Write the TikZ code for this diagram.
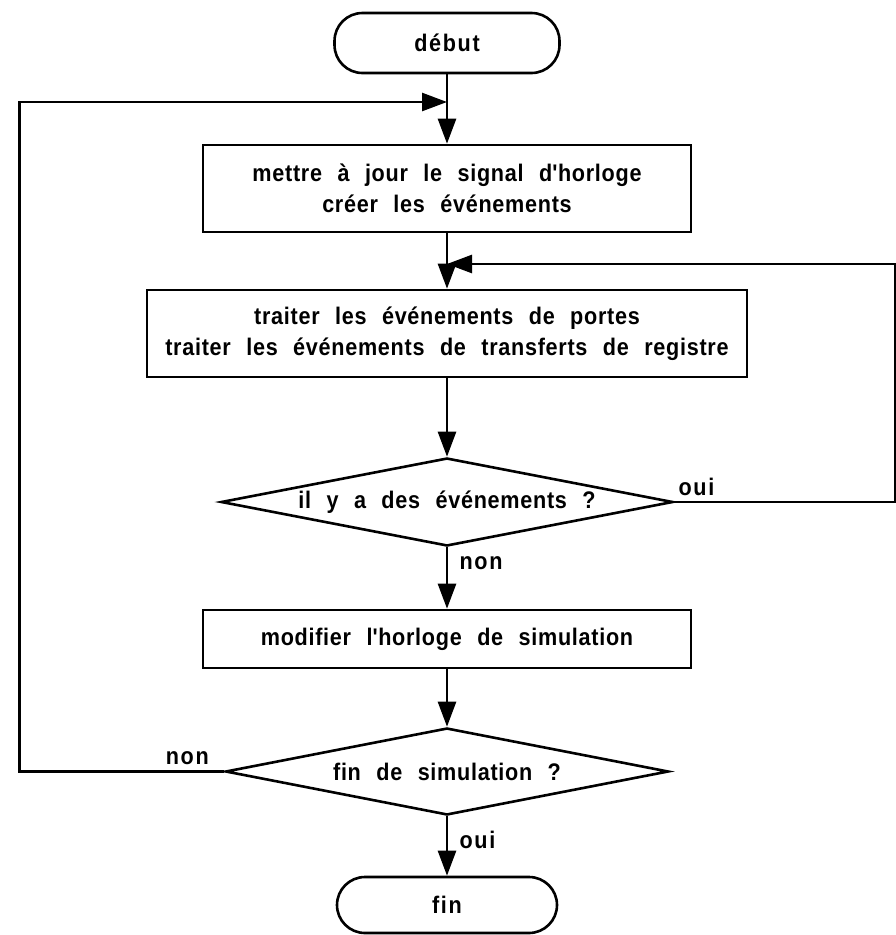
\documentclass[tikz,border=0pt]{standalone}
\usepackage{fontspec}
\setmainfont{Liberation Sans}[FakeStretch=0.9, LetterSpace=3, WordSpace=2.3]
\usetikzlibrary{shapes.geometric, positioning, arrows.meta}

\begin{document}
\begin{tikzpicture}[
    x=1pt, y=-1pt,
    font=\fontsize{24}{31}\selectfont\bfseries,
    line width=2.6pt, >={Triangle[length=25pt, width=18pt]},
    terminal/.style={rectangle, rounded corners=28pt, draw, minimum width=225pt, minimum height=60pt,
        font=\fontsize{24}{31}\selectfont\bfseries\addfontfeatures{LetterSpace=7}},
    process/.style={rectangle, draw, minimum width=488pt, minimum height=87pt, align=center},
    decision/.style={diamond, draw, shape aspect=5, inner sep=0pt, minimum width=452pt, minimum height=88pt},
    answer/.style={font=\fontsize{24}{31}\selectfont\bfseries\addfontfeatures{LetterSpace=7}}
]

\useasboundingbox (0,0) rectangle (896,935);

\node[terminal] (debut) at (447,43) {début};
\node[process, below=69.4pt of debut] (horloge) {mettre à jour le signal d\textquotesingle horloge\\créer les événements};
\node[process, minimum width=600pt, below=55.4pt of horloge] (traiter) {traiter les événements de portes\\traiter les événements de transferts de registre};
\node[decision, below=78.4pt of traiter] (evts) {il y a des événements ?};
\node[process, minimum height=58pt, below=61.4pt of evts] (modif) {modifier l\textquotesingle horloge de simulation};
\node[decision, minimum width=443pt, minimum height=87pt, below=57.4pt of modif] (finsim) {fin de simulation ?};
\node[terminal, minimum width=220pt, minimum height=56pt, below=59.4pt of finsim] (fin) {fin};

% points where the loops come back
\coordinate[below=27.7pt of debut] (haut);
\coordinate[below=30.7pt of horloge] (milieu);

\path[->]
    (debut) edge (horloge)
    (horloge) edge (traiter)
    (traiter) edge (evts)
    (evts) edge node[answer, pos=0.25, right=8pt] {non} (modif)
    (modif) edge (finsim)
    (finsim) edge node[answer, pos=0.4, right=8pt] {oui} (fin);

\draw[->] (evts.east) -- node[answer, pos=0.1, above=2pt] {oui} +(221,0) |- (milieu);
\draw[->] (finsim.west) -- node[answer, pos=0.18, above=2pt] {non} +(-205,0) |- (haut);

\end{tikzpicture}
\end{document}
